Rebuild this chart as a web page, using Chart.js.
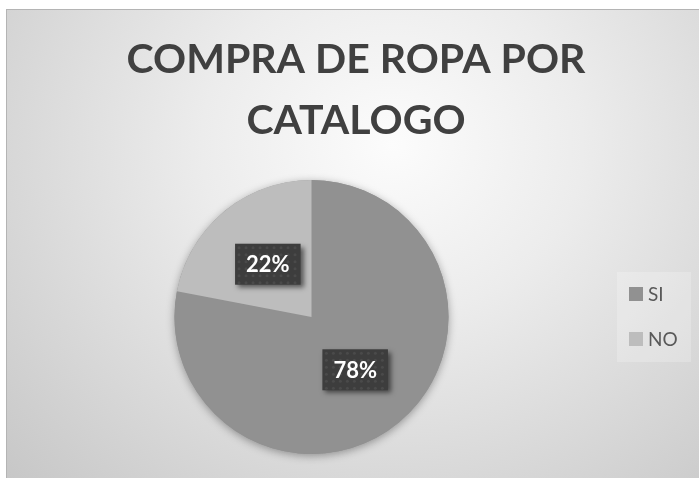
<!DOCTYPE html>
<html>
<head>
<meta charset="utf-8">
<title>Compra de ropa por catalogo</title>
<script src="https://cdn.jsdelivr.net/npm/chart.js@4.4.1/dist/chart.umd.min.js"></script>
<style>
    html, body { margin: 0; padding: 0; background: #ffffff; overflow: hidden; }
    #frame {
        position: absolute; left: 6px; top: 9px; width: 700px; height: 480px;
        border: 1px solid #b4b4b4;
        background: radial-gradient(ellipse at 55% 28%, #fcfcfc 0%, #ececec 35%, #c6c6c6 100%);
    }
    #wrap { position: absolute; left: 0; top: 0; width: 699px; height: 478px; }
</style>
</head>
<body>
<div id="frame"></div>
<div id="wrap"><canvas id="pieChart"></canvas></div>
<script>
// Chart data
const categories = ['SI', 'NO'];
const percentages = [78, 22];
const sliceColors = ['#919191', '#bdbdbd'];
const chartTitle = ['COMPRA DE ROPA POR', 'CATALOGO'];

const FONT = 'Lato, "Open Sans", sans-serif';
const LEGEND_SPACE = 89; // room kept free on the right for the legend

// Keep the right side free for the legend (title stays centred on the frame)
const legendSpace = {
    id: 'legendSpace',
    afterLayout(chart) {
        const area = chart.chartArea;
        area.right = chart.width - LEGEND_SPACE;
        area.width = area.right - area.left;
    }
};

// Soft shadow under the whole pie
const pieShadow = {
    id: 'pieShadow',
    beforeDatasetsDraw(chart) {
        const arc = chart.getDatasetMeta(0).data[0];
        if (!arc) return;
        const ctx = chart.ctx;
        ctx.save();
        ctx.shadowColor = 'rgba(0, 0, 0, 0.35)';
        ctx.shadowBlur = 9;
        ctx.shadowOffsetY = 2;
        ctx.fillStyle = sliceColors[0];
        ctx.beginPath();
        ctx.arc(arc.x, arc.y, arc.outerRadius, 0, Math.PI * 2);
        ctx.fill();
        ctx.restore();
    }
};

// Dark percentage boxes on each slice
const labelBoxes = {
    id: 'labelBoxes',
    afterDatasetsDraw(chart) {
        const ctx = chart.ctx;
        const meta = chart.getDatasetMeta(0);
        meta.data.forEach((arc, i) => {
            const pos = arc.tooltipPosition();
            const text = chart.data.datasets[0].data[i] + '%';
            ctx.save();
            ctx.font = 'bold 22px ' + FONT;
            const w = ctx.measureText(text).width + 22;
            const h = 41;
            const x = pos.x - w / 2;
            const y = pos.y - h / 2;

            ctx.shadowColor = 'rgba(0, 0, 0, 0.55)';
            ctx.shadowBlur = 5;
            ctx.shadowOffsetX = 3;
            ctx.shadowOffsetY = 3;
            ctx.fillStyle = '#3d3d3d';
            ctx.fillRect(x, y, w, h);
            ctx.shadowColor = 'transparent';

            // faint dotted texture
            ctx.fillStyle = 'rgba(255, 255, 255, 0.07)';
            for (let dx = 4; dx < w; dx += 7) {
                for (let dy = 4; dy < h; dy += 7) {
                    ctx.beginPath();
                    ctx.arc(x + dx, y + dy, 1.5, 0, Math.PI * 2);
                    ctx.fill();
                }
            }

            ctx.fillStyle = '#ffffff';
            ctx.textAlign = 'center';
            ctx.textBaseline = 'middle';
            ctx.fillText(text, pos.x, pos.y + 1);
            ctx.restore();
        });
    }
};

// Legend on the right, inside a light box
const sideLegend = {
    id: 'sideLegend',
    afterDraw(chart) {
        const ctx = chart.ctx;
        const colors = chart.data.datasets[0].backgroundColor;
        ctx.save();
        ctx.fillStyle = 'rgba(255, 255, 255, 0.22)';
        ctx.fillRect(617, 272, 74, 90);
        ctx.font = '19px ' + FONT;
        ctx.textBaseline = 'middle';
        chart.data.labels.forEach((label, i) => {
            const cy = 294 + i * 45;
            ctx.fillStyle = colors[i];
            ctx.fillRect(629, cy - 7, 14, 14);
            ctx.fillStyle = '#595959';
            ctx.fillText(label, 648, cy + 1);
        });
        ctx.restore();
    }
};

const ctx = document.getElementById('pieChart');
new Chart(ctx, {
    type: 'pie',
    data: {
        labels: categories,
        datasets: [{
            data: percentages,
            backgroundColor: sliceColors,
            borderWidth: 0
        }]
    },
    options: {
        responsive: true,
        maintainAspectRatio: false,
        animation: false,
        layout: {
            padding: { left: 13, right: 0, top: 0, bottom: 24 }
        },
        plugins: {
            legend: { display: false },
            tooltip: { enabled: false },
            title: {
                display: true,
                text: chartTitle,
                color: '#404040',
                font: { family: FONT, size: 41, weight: 'bold', lineHeight: 61 / 41 },
                padding: { top: 29, bottom: 29 }
            }
        }
    },
    plugins: [legendSpace, pieShadow, labelBoxes, sideLegend]
});
</script>
</body>
</html>
